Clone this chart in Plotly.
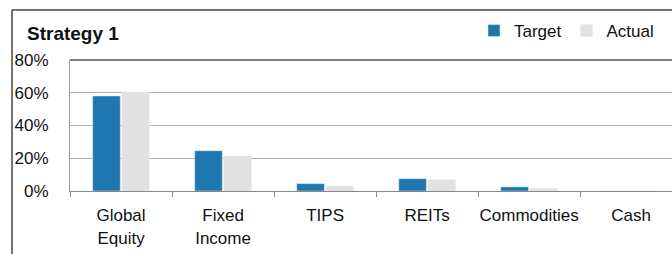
import plotly.graph_objects as go

categories = ["Global<br>Equity", "Fixed<br>Income", "TIPS", "REITs", "Commodities", "Cash"]
target = [0.58, 0.246, 0.045, 0.075, 0.025, 0.0]
actual = [0.605, 0.214, 0.03, 0.069, 0.016, 0.0]
y_ticks = [0, 0.2, 0.4, 0.6, 0.8]
y_labels = ["0%", "20%", "40%", "60%", "80%"]

W, H = 672, 254
L, R, T, B = 70, 0, 60, 63
pw, ph = W - L - R, H - T - B

def px_x(x):
    return (x - L) / pw

def px_y(y):
    return (H - B - y) / ph

FONT = "Liberation Sans, Arial"
TXT = "#111111"

fig = go.Figure()
fig.add_bar(name="Target", x=categories, y=target, marker_color="#1F77B0")
fig.add_bar(name="Actual", x=categories, y=actual, marker_color="#E2E2E2")

fig.update_layout(
    width=W, height=H,
    margin=dict(l=L, r=R, t=T, b=B, autoexpand=False),
    paper_bgcolor="white", plot_bgcolor="white",
    barmode="group", bargap=0.43, bargroupgap=0.05,
    font=dict(family=FONT, size=17, color=TXT),
    showlegend=True,
    legend=dict(orientation="h", x=px_x(474), y=px_y(31), xanchor="left", yanchor="middle",
                font=dict(size=17, color=TXT), itemwidth=30, bgcolor="rgba(0,0,0,0)"),
    annotations=[dict(text="<b>Strategy 1</b>", x=px_x(25), y=px_y(33), xref="paper", yref="paper",
                      xanchor="left", yanchor="middle", showarrow=False,
                      font=dict(family=FONT, size=19, color=TXT))],
    shapes=[
        dict(type="line", xref="paper", yref="paper", x0=px_x(12), x1=1.05, y0=px_y(10), y1=px_y(10),
             line=dict(color="#444", width=1.5)),
        dict(type="line", xref="paper", yref="paper", x0=px_x(12), x1=px_x(12), y0=px_y(10), y1=px_y(260),
             line=dict(color="#444", width=1.5)),
        dict(type="line", xref="paper", yref="paper", x0=0, x1=1.05, y0=1, y1=1,
             line=dict(color="#555", width=1.5)),
    ],
)
fig.update_yaxes(range=[0, 0.8], tickvals=y_ticks, ticktext=y_labels, showgrid=True,
                 gridcolor="#B0B0B0", gridwidth=1, showline=True, linecolor="#999",
                 zeroline=False, ticks="", ticklabelstandoff=17, automargin=False,
                 tickfont=dict(size=17, color=TXT))
fig.update_xaxes(showline=True, linecolor="#888", ticks="outside", tickson="boundaries",
                 ticklen=5, tickcolor="#888", automargin=False, tickangle=0,
                 ticklabelstandoff=9,
                 tickfont=dict(size=17, color=TXT), range=[-0.5, 5.40])

fig.write_html("out.html", config={"displayModeBar": False},
               post_script="document.body.style.margin='0';")
